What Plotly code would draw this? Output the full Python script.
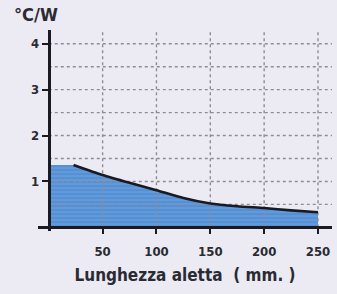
import plotly.graph_objects as go

# Data
fin_length = [0, 23, 50, 75, 100, 125, 150, 175, 200, 225, 250]          # mm
resistance = [1.36, 1.36, 1.14, 0.97, 0.81, 0.64, 0.52, 0.46, 0.42, 0.37, 0.33]  # °C/W
x_ticks = [50, 100, 150, 200, 250]
y_ticks = [1, 2, 3, 4]
y_grid = [0.5, 1, 1.5, 2, 2.5, 3, 3.5, 4]

x_range = [-10, 263]
y_range = [-0.08, 4.3]

bg = "#ecebf3"
font_fam = "DejaVu Sans Condensed, Liberation Sans Narrow, Arial Narrow, sans-serif"
txt = "#2a2a33"

fig = go.Figure()

# filled area
fig.add_trace(go.Scatter(
    x=fin_length, y=resistance, mode="lines", line=dict(width=0, color="#5a93d6"),
    fill="tozeroy", fillcolor="#5a93d6",
    fillpattern=dict(shape="-", bgcolor="#5590d4", fgcolor="#7fb1e8", size=4, solidity=0.3),
    hoverinfo="skip", showlegend=False))

# dotted grid above the fill
gx, gy = [], []
for v in y_grid:
    gx += [0, x_range[1], None]
    gy += [v, v, None]
for v in x_ticks:
    gx += [v, v, None]
    gy += [0, y_range[1], None]
fig.add_trace(go.Scatter(x=gx, y=gy, mode="lines",
                         line=dict(color="#8e8c9c", width=1.4, dash="dot"),
                         hoverinfo="skip", showlegend=False))

# black curve
fig.add_trace(go.Scatter(x=fin_length[1:], y=resistance[1:], mode="lines",
                         line=dict(color="#1a1a22", width=2.6, shape="spline", smoothing=0.6),
                         showlegend=False))

xpos = (0 - y_range[0]) / (y_range[1] - y_range[0])
ypos = (0 - x_range[0]) / (x_range[1] - x_range[0])

cond = '<span style="font-stretch:condensed">{}</span>'

fig.update_layout(
    width=337, height=294,
    margin=dict(l=38, r=5, t=30, b=63, autoexpand=False),
    paper_bgcolor=bg, plot_bgcolor=bg,
    font=dict(family=font_fam, color=txt),
    xaxis=dict(range=x_range, showgrid=False, zeroline=False,
               tickvals=x_ticks, ticks="outside", ticklen=5, tickwidth=2, tickcolor="#1a1a22",
               showline=True, linecolor="#1a1a22", linewidth=3, layer="above traces",
               anchor="free", position=xpos, ticklabelstandoff=6,
               tickfont=dict(size=13, family=font_fam, weight="bold", color=txt),
               title=dict(text=cond.format("Lunghezza aletta  ( mm. )"), standoff=11,
                          font=dict(size=17, family=font_fam, weight="bold", color=txt))),
    yaxis=dict(range=y_range, showgrid=False, zeroline=False,
               tickvals=y_ticks, ticks="outside", ticklen=6, tickwidth=2, tickcolor="#1a1a22",
               showline=True, linecolor="#1a1a22", linewidth=3, layer="above traces",
               anchor="free", position=ypos,
               tickfont=dict(size=13, family=font_fam, weight="bold", color=txt)),
    annotations=[dict(text=cond.format("°C/W"), xref="paper", yref="paper", x=-0.09, y=1.015,
                      xanchor="left", yanchor="bottom", showarrow=False,
                      font=dict(size=18, family=font_fam, weight="bold", color=txt))],
)

fig.write_html("out.html", config={"displayModeBar": False},
               post_script="document.body.style.margin='0';")
